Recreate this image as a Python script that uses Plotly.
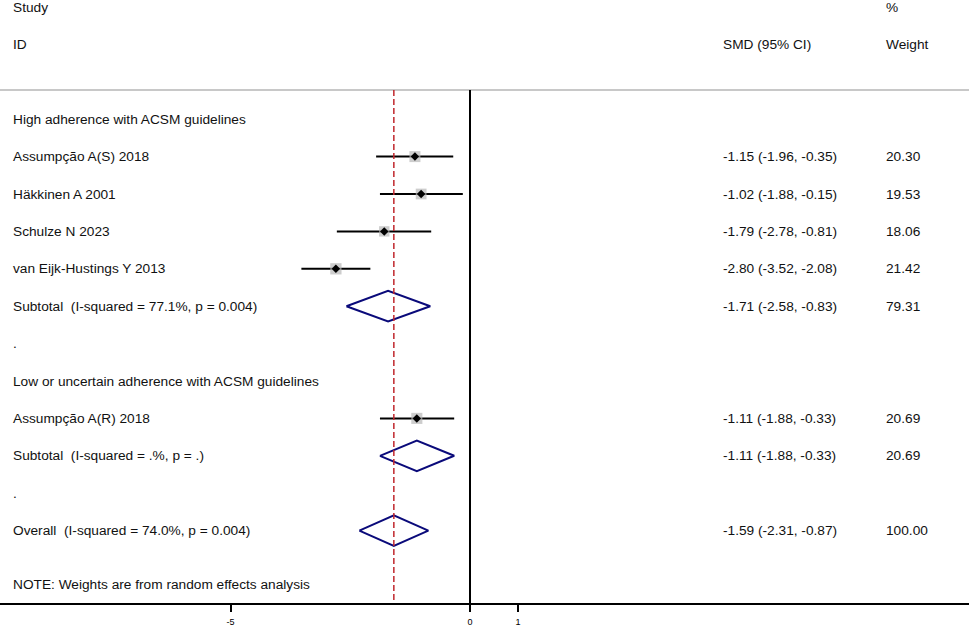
import plotly.graph_objects as go
import numpy as np

# ---------------- data ----------------
group_names = ["High adherence with ACSM guidelines",
               "Low or uncertain adherence with ACSM guidelines"]
studies = ["Assumpção A(S) 2018", "Häkkinen A 2001", "Schulze N 2023",
           "van Eijk-Hustings Y 2013", "Assumpção A(R) 2018"]
study_group = [0, 0, 0, 0, 1]
smd = [-1.15, -1.02, -1.79, -2.80, -1.11]
ci_lo = [-1.96, -1.88, -2.78, -3.52, -1.88]
ci_hi = [-0.35, -0.15, -0.81, -2.08, -0.33]
weights = [20.30, 19.53, 18.06, 21.42, 20.69]

subtotal_labels = ["Subtotal  (I-squared = 77.1%, p = 0.004)",
                   "Subtotal  (I-squared = .%, p = .)"]
subtotal_smd = [-1.71, -1.11]
subtotal_lo = [-2.58, -1.88]
subtotal_hi = [-0.83, -0.33]
subtotal_w = [79.31, 20.69]

overall_label = "Overall  (I-squared = 74.0%, p = 0.004)"
overall_smd = -1.59
overall_lo = -2.31
overall_hi = -0.87
overall_w = 100.00

note_text = "NOTE: Weights are from random effects analysis"
x_ticks = [-5, 0, 1]
x_tick_labels = ["-5", "0", "1"]

# ---------------- layout of rows ----------------
FONT = "Liberation Sans, Arial, sans-serif"
FS = 13.7
W, H = 969, 631
X_LABEL = 11 / W
X_SMD = 721 / W
X_WT = 884 / W

rows = []  # (row, label, est, lo, hi, weight, kind)
r = 3
study_rows = []
sub_rows = []
for g, gname in enumerate(group_names):
    rows.append((r, gname, None, None, None, None, "header"))
    r += 1
    for i in range(len(studies)):
        if study_group[i] == g:
            rows.append((r, studies[i], smd[i], ci_lo[i], ci_hi[i], weights[i], "study"))
            study_rows.append((r, i))
            r += 1
    rows.append((r, subtotal_labels[g], subtotal_smd[g], subtotal_lo[g], subtotal_hi[g], subtotal_w[g], "sub"))
    sub_rows.append((r, g))
    r += 1
    rows.append((r, ".", None, None, None, None, "dot"))
    r += 1
overall_row = r
rows.append((r, overall_label, overall_smd, overall_lo, overall_hi, overall_w, "overall"))
note_row = r + 1.45
line_row = 2.22

fig = go.Figure()

# CI lines
xs, ys = [], []
for rr, i in study_rows:
    xs += [ci_lo[i], ci_hi[i], None]
    ys += [rr, rr, None]
fig.add_trace(go.Scatter(x=xs, y=ys, mode="lines",
                         line=dict(color="black", width=2), hoverinfo="skip"))

# weight boxes
fig.add_trace(go.Scatter(
    x=[smd[i] for rr, i in study_rows], y=[rr for rr, i in study_rows], mode="markers",
    marker=dict(symbol="square", color="#b8b8b8",
                size=[11 * np.sqrt(weights[i] / 20.3) for rr, i in study_rows],
                line=dict(width=0)),
    hoverinfo="skip"))
# point estimates
fig.add_trace(go.Scatter(
    x=[smd[i] for rr, i in study_rows], y=[rr for rr, i in study_rows], mode="markers",
    marker=dict(symbol="diamond", color="black", size=6.5, line=dict(width=0)),
    hoverinfo="skip"))

# diamonds for subtotals and overall
HH = 0.41
dx, dy = [], []
for rr, g in sub_rows:
    dx += [subtotal_lo[g], subtotal_smd[g], subtotal_hi[g], subtotal_smd[g], subtotal_lo[g], None]
    dy += [rr, rr - HH, rr, rr + HH, rr, None]
dx += [overall_lo, overall_smd, overall_hi, overall_smd, overall_lo]
dy += [overall_row, overall_row - HH, overall_row, overall_row + HH, overall_row]
fig.add_trace(go.Scatter(x=dx, y=dy, mode="lines",
                         line=dict(color="#0a0a7a", width=2), hoverinfo="skip"))

# text annotations
ann = []
def txt(x, y, s, size=FS):
    ann.append(dict(x=x, y=y, xref="paper", yref="y", text=s, showarrow=False,
                    xanchor="left", yanchor="middle",
                    font=dict(family=FONT, size=size, color="#111111")))

txt(X_LABEL, 0, "Study")
txt(X_WT, 0, "%")
txt(X_LABEL, 1, "ID")
txt(X_SMD, 1, "SMD (95% CI)")
txt(X_WT, 1, "Weight")
for rr, label, est, lo, hi, w, kind in rows:
    txt(X_LABEL, rr, label)
    if est is not None:
        txt(X_SMD, rr, f"{est:.2f} ({lo:.2f}, {hi:.2f})")
        txt(X_WT, rr, f"{w:.2f}")
txt(X_LABEL, note_row, note_text)

shapes = [
    dict(type="line", xref="paper", yref="y", x0=0, x1=1, y0=line_row, y1=line_row,
         line=dict(color="#c8c8c8", width=2)),
    dict(type="line", xref="x", yref="y", x0=0, x1=0, y0=line_row, y1=15.94,
         line=dict(color="black", width=2)),
    dict(type="line", xref="x", yref="y", x0=overall_smd, x1=overall_smd, y0=line_row, y1=15.94,
         line=dict(color="#c0272d", width=1.5, dash="6px,3px")),
]

unit = 47.9
fig.update_layout(
    width=W, height=H, margin=dict(l=0, r=0, t=0, b=28),
    plot_bgcolor="white", paper_bgcolor="white", showlegend=False,
    annotations=ann, shapes=shapes,
    xaxis=dict(range=[-470 / unit, (W - 470) / unit], tickvals=x_ticks, ticktext=x_tick_labels,
               showgrid=False, zeroline=False, showline=True, linecolor="black", linewidth=2,
               ticks="outside", ticklen=7, tickwidth=2, tickcolor="black", ticklabelstandoff=2,
               tickfont=dict(family=FONT, size=9, color="black"), fixedrange=True),
    yaxis=dict(range=[(603 - 7) / 37.4, -7 / 37.4], visible=False, showgrid=False,
               zeroline=False, fixedrange=True),
)

fig.write_html("out.html", config={"displayModeBar": False},
               post_script="document.body.style.margin='0';document.body.style.overflow='hidden';")
